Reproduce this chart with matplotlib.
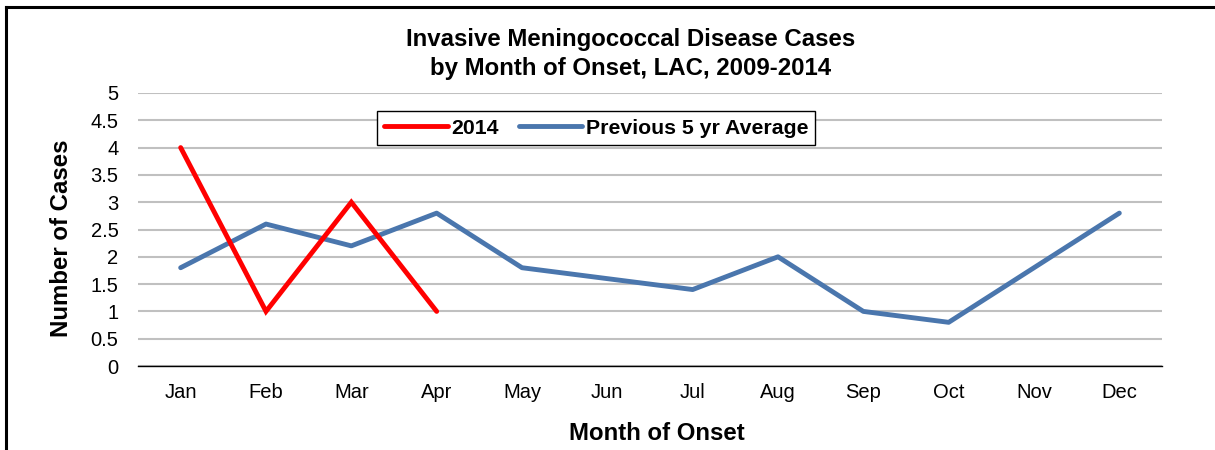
import matplotlib
matplotlib.use("Agg")
import matplotlib.pyplot as plt
from matplotlib.lines import Line2D

months = ["Jan", "Feb", "Mar", "Apr", "May", "Jun", "Jul", "Aug", "Sep", "Oct", "Nov", "Dec"]
cases_2014 = [4, 1, 3, 1]
prev_5yr_avg = [1.8, 2.6, 2.2, 2.8, 1.8, 1.6, 1.4, 2.0, 1.0, 0.8, 1.8, 2.8]
y_ticks = [0, 0.5, 1, 1.5, 2, 2.5, 3, 3.5, 4, 4.5, 5]

plt.rcParams['font.family'] = ['Liberation Sans', 'DejaVu Sans']

W, H = 1215, 450
fig = plt.figure(figsize=(W / 100, H / 100), dpi=100)
ax = fig.add_axes([138 / W, 84 / H, 1024 / W, 273 / H])

# outer frame (left + top edges visible, bottom/right cut off)
fig.add_artist(Line2D([6 / W, 6 / W], [0, 1 - 7 / H], transform=fig.transFigure,
                      color="black", linewidth=2.2))
fig.add_artist(Line2D([6 / W, 1], [1 - 7 / H, 1 - 7 / H], transform=fig.transFigure,
                      color="black", linewidth=2.2))

x = list(range(len(months)))
ax.plot(x, prev_5yr_avg, color="#4a76ad", linewidth=3.5, label="Previous 5 yr Average",
        solid_joinstyle="round", solid_capstyle="round", zorder=3)
ax.plot(x[:len(cases_2014)], cases_2014, color="#ff0000", linewidth=3.5, label="2014",
        solid_joinstyle="miter", solid_capstyle="round", zorder=4)

ax.set_xlim(-0.5, 11.5)
ax.set_ylim(0, 5)
ax.set_yticks(y_ticks)
ax.set_yticklabels([f"{v:g}" for v in y_ticks])
ax.set_xticks(x)
ax.set_xticklabels(months)
ax.tick_params(axis="both", length=0, labelsize=14.5, colors="black")
ax.tick_params(axis="x", pad=12)
ax.tick_params(axis="y", pad=14)

ax.grid(axis="y", color="#c0c0c0", linewidth=1.5)
ax.set_axisbelow(True)
for side in ["top", "right", "left"]:
    ax.spines[side].set_visible(False)
ax.spines["bottom"].set_color("black")
ax.spines["bottom"].set_linewidth(1)
ax.spines["bottom"].set_zorder(5)

ax.set_xlabel("Month of Onset", fontsize=17.3, fontweight="bold")
ax.set_ylabel("Number of Cases", fontsize=17.3, fontweight="bold")
ax.xaxis.set_label_coords((657 - 138) / 1024, (366 - 434) / 273)
ax.xaxis.label.set_va("center")
ax.yaxis.set_label_coords((62 - 138) / 1024, (366 - 238) / 273)
ax.yaxis.label.set_va("center")

fig.text(631 / W, 1 - 54 / H, "Invasive Meningococcal Disease Cases\nby Month of Onset, LAC, 2009-2014",
         ha="center", va="center", fontsize=17.3, fontweight="bold", linespacing=1.3)

handles, labels = ax.get_legend_handles_labels()
leg = ax.legend(handles[::-1], labels[::-1], ncol=2, loc="center",
                bbox_to_anchor=((596 - 138) / 1024, (366 - 128) / 273),
                frameon=True, fancybox=False, edgecolor="black", framealpha=1,
                prop={"weight": "bold", "size": 15.3}, handlelength=3.0, handletextpad=0.15,
                columnspacing=0.95, borderpad=0.35, borderaxespad=0)
leg.get_frame().set_linewidth(1)

fig.savefig("out.png", dpi=100)
